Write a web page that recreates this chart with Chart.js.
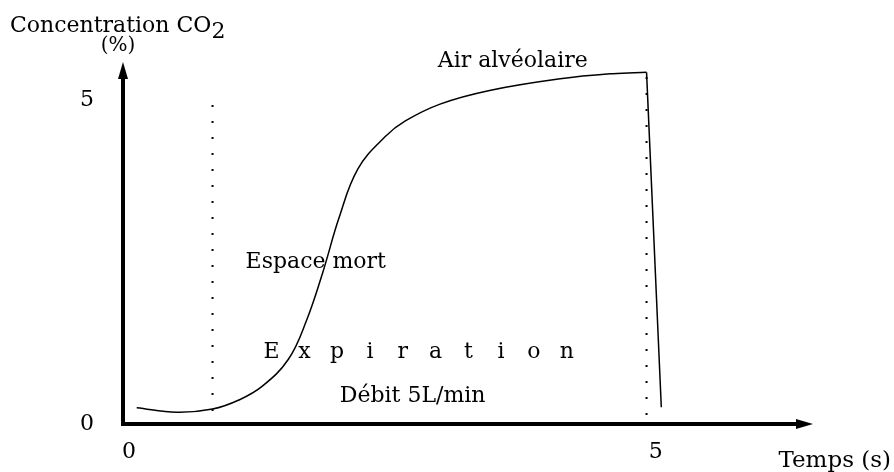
<!DOCTYPE html>
<html>
<head>
<meta charset="utf-8">
<script src="https://cdn.jsdelivr.net/npm/chart.js@4.4.0/dist/chart.umd.min.js"></script>
<style>
  html, body { margin: 0; padding: 0; background: #fff; }
</style>
</head>
<body>
<canvas id="capno" width="894" height="472"></canvas>
<script>
// --- données ---
const curveX = [0.13, 0.51, 0.85, 1.10, 1.32, 1.57, 1.74, 1.90, 2.05, 2.23, 2.49, 2.68, 3.01, 3.48, 4.15, 4.65, 4.97];
const curveY = [0.25, 0.18, 0.23, 0.37, 0.58, 1.00, 1.59, 2.36, 3.18, 3.94, 4.44, 4.68, 4.94, 5.15, 5.33, 5.41, 5.43];
const dropX = [4.97, 5.11];
const dropY = [5.43, 0.26];
const markerX = [0.85, 4.97];
const markerLow = [0.2, 0.14];
const markerHigh = [5.05, 5.4];
const xTicks = [0, 5];
const yTicks = [0, 5];
const xMax = 6.55;
const yMax = 5.59;

const FONT = '"DejaVu Serif", "Liberation Serif", serif';

const toPts = (xs, ys) => xs.map((x, i) => ({ x: x, y: ys[i] }));

// --- axes fléchés, graduations et textes ---
const figurePlugin = {
    id: 'figure',
    beforeDatasetsDraw(chart) {
        const { ctx, chartArea: a } = chart;
        ctx.save();
        ctx.strokeStyle = '#000';
        ctx.fillStyle = '#000';
        ctx.lineWidth = 4;
        ctx.lineCap = 'butt';
        ctx.beginPath();
        ctx.moveTo(a.left, a.bottom + 2);
        ctx.lineTo(a.left, a.top + 12);
        ctx.moveTo(a.left - 2, a.bottom);
        ctx.lineTo(a.right - 12, a.bottom);
        ctx.stroke();
        // pointes de flèche
        ctx.beginPath();
        ctx.moveTo(a.left, a.top);
        ctx.lineTo(a.left - 5, a.top + 17);
        ctx.lineTo(a.left + 5, a.top + 17);
        ctx.closePath();
        ctx.fill();
        ctx.beginPath();
        ctx.moveTo(a.right, a.bottom);
        ctx.lineTo(a.right - 17, a.bottom - 5);
        ctx.lineTo(a.right - 17, a.bottom + 5);
        ctx.closePath();
        ctx.fill();
        ctx.restore();
    },
    afterDraw(chart) {
        const { ctx, chartArea: a } = chart;
        const xs = chart.scales.x, ys = chart.scales.y;
        ctx.save();
        ctx.fillStyle = '#000';
        ctx.textBaseline = 'alphabetic';

        // graduations
        ctx.font = '22px ' + FONT;
        ctx.textAlign = 'center';
        xTicks.forEach(v => ctx.fillText(String(v), xs.getPixelForValue(v) + 6, a.bottom + 34));
        yTicks.forEach(v => ctx.fillText(String(v), a.left - 36, ys.getPixelForValue(v) + 6));

        // titres des axes
        ctx.textAlign = 'left';
        ctx.font = '22px ' + FONT;
        ctx.fillText('Concentration CO', 10, 32);
        const w = ctx.measureText('Concentration CO').width;
        ctx.fillText('2', 10 + w, 38);
        ctx.textAlign = 'center';
        ctx.font = '20px ' + FONT;
        ctx.fillText('(%)', a.left - 5, 51);
        ctx.font = '23px ' + FONT;
        ctx.textAlign = 'right';
        ctx.fillText('Temps (s)', 891, 467);

        // annotations
        ctx.font = '22px ' + FONT;
        ctx.textAlign = 'center';
        ctx.fillText('Air alvéolaire', xs.getPixelForValue(3.7), ys.getPixelForValue(5.51));
        ctx.fillText('Espace mort', xs.getPixelForValue(1.83), ys.getPixelForValue(2.41));
        ctx.fillText('Débit 5L/min', xs.getPixelForValue(2.75), ys.getPixelForValue(0.34));
        const word = 'Expiration';
        const x0 = xs.getPixelForValue(1.41), step = 32.8;
        for (let i = 0; i < word.length; i++) {
            ctx.fillText(word[i], x0 + i * step, ys.getPixelForValue(1.02));
        }
        ctx.restore();
    }
};

new Chart(document.getElementById('capno'), {
    type: 'scatter',
    data: {
        datasets: [
            {
                data: toPts(curveX, curveY),
                showLine: true,
                borderColor: '#000',
                borderWidth: 1.5,
                pointRadius: 0,
                tension: 0.4,
                clip: false
            },
            {
                data: toPts(dropX, dropY),
                showLine: true,
                borderColor: '#000',
                borderWidth: 1.5,
                pointRadius: 0,
                tension: 0,
                clip: false
            },
            ...markerX.map((x, i) => ({
                data: [{ x: x, y: markerLow[i] }, { x: x, y: markerHigh[i] }],
                showLine: true,
                borderColor: '#000',
                borderWidth: 2,
                borderDash: [2, 14],
                pointRadius: 0,
                clip: false
            }))
        ]
    },
    options: {
        responsive: false,
        animation: false,
        layout: { padding: { left: 123, right: 81, top: 62, bottom: 48 } },
        plugins: { legend: { display: false }, tooltip: { enabled: false } },
        scales: {
            x: { type: 'linear', min: 0, max: xMax, display: false },
            y: { type: 'linear', min: 0, max: yMax, display: false }
        }
    },
    plugins: [figurePlugin]
});
</script>
</body>
</html>
